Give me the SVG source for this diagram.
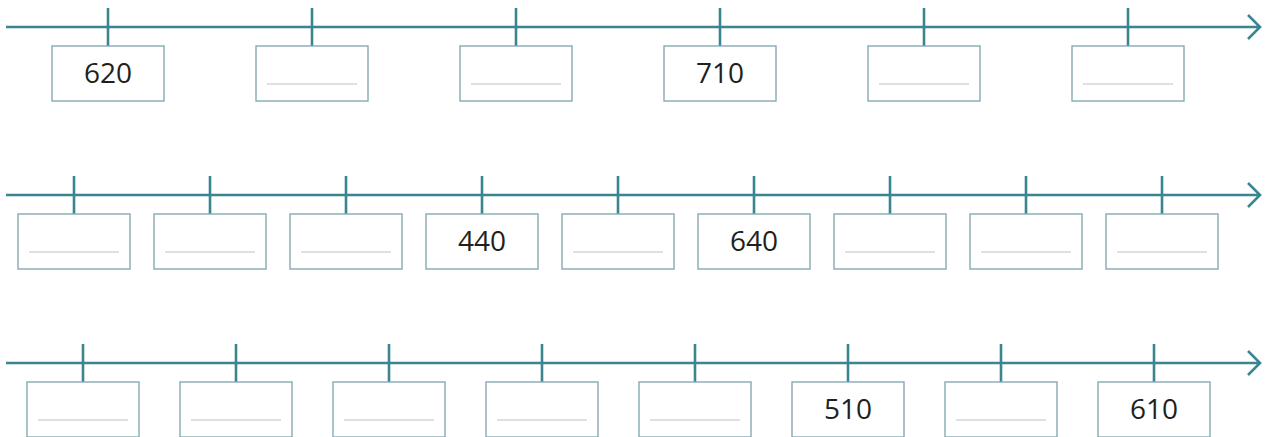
<svg xmlns="http://www.w3.org/2000/svg" width="1265" height="437" viewBox="0 0 1265 437">
<defs>
<style>
.axis{stroke:#3a8591;stroke-width:2.6;fill:none}
.tick{stroke:#3a8591;stroke-width:2.6}
.box{fill:#fff;stroke:#86aab4;stroke-width:1.4}
.blank{stroke:#d6d6d6;stroke-width:1.6}
.num{font-family:"Open Sans","Liberation Sans",sans-serif;font-size:28px;fill:#231f20;text-anchor:middle}
</style>
<g id="box-blank"><rect class="box" x="-56" y="0" width="112" height="55"/><line class="blank" x1="-45" y1="38" x2="45" y2="38"/></g>
<g id="box-empty"><rect class="box" x="-56" y="0" width="112" height="55"/></g>
</defs>
<g id="connectors">
<path class="axis" d="M6 27H1260M1248 15L1260 27L1248 39"/>
<path class="axis" d="M6 195H1260M1248 183L1260 195L1248 207"/>
<path class="axis" d="M6 363H1260M1248 351L1260 363L1248 375"/>
<path class="tick" d="M108 8V46M312 8V46M516 8V46M720 8V46M924 8V46M1128 8V46"/>
<path class="tick" d="M74 176V214M210 176V214M346 176V214M482 176V214M618 176V214M754 176V214M890 176V214M1026 176V214M1162 176V214"/>
<path class="tick" d="M83 344V382M236 344V382M389 344V382M542 344V382M695 344V382M848 344V382M1001 344V382M1154 344V382"/>
</g>
<g id="r1n1"><use href="#box-empty" x="108" y="46"/><text class="num" x="108" y="83">620</text></g>
<g id="r1n2"><use href="#box-blank" x="312" y="46"/></g>
<g id="r1n3"><use href="#box-blank" x="516" y="46"/></g>
<g id="r1n4"><use href="#box-empty" x="720" y="46"/><text class="num" x="720" y="83">710</text></g>
<g id="r1n5"><use href="#box-blank" x="924" y="46"/></g>
<g id="r1n6"><use href="#box-blank" x="1128" y="46"/></g>
<g id="r2n1"><use href="#box-blank" x="74" y="214"/></g>
<g id="r2n2"><use href="#box-blank" x="210" y="214"/></g>
<g id="r2n3"><use href="#box-blank" x="346" y="214"/></g>
<g id="r2n4"><use href="#box-empty" x="482" y="214"/><text class="num" x="482" y="251">440</text></g>
<g id="r2n5"><use href="#box-blank" x="618" y="214"/></g>
<g id="r2n6"><use href="#box-empty" x="754" y="214"/><text class="num" x="754" y="251">640</text></g>
<g id="r2n7"><use href="#box-blank" x="890" y="214"/></g>
<g id="r2n8"><use href="#box-blank" x="1026" y="214"/></g>
<g id="r2n9"><use href="#box-blank" x="1162" y="214"/></g>
<g id="r3n1"><use href="#box-blank" x="83" y="382"/></g>
<g id="r3n2"><use href="#box-blank" x="236" y="382"/></g>
<g id="r3n3"><use href="#box-blank" x="389" y="382"/></g>
<g id="r3n4"><use href="#box-blank" x="542" y="382"/></g>
<g id="r3n5"><use href="#box-blank" x="695" y="382"/></g>
<g id="r3n6"><use href="#box-empty" x="848" y="382"/><text class="num" x="848" y="419">510</text></g>
<g id="r3n7"><use href="#box-blank" x="1001" y="382"/></g>
<g id="r3n8"><use href="#box-empty" x="1154" y="382"/><text class="num" x="1154" y="419">610</text></g>
</svg>
